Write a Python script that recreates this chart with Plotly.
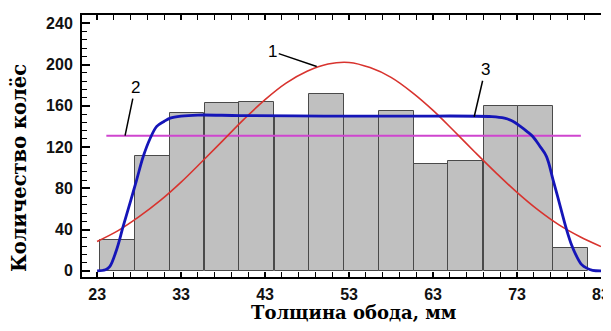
import plotly.graph_objects as go

# Histogram bins (centers, mm) and counts
bin_centers = [25.4, 29.6, 33.7, 37.9, 42.0, 46.2, 50.3, 54.5, 58.6, 62.8, 66.9, 71.1, 75.2, 79.4]
bin_counts = [30, 111, 153, 163, 164, 149, 171, 149, 155, 104, 106, 160, 160, 22]
bin_width = 4.15

# Curve 1 (red)
curve1_x = [23, 25.5, 28, 30.5, 33, 35.5, 38, 40.5, 43, 45.5, 48, 50.5, 53, 55.5, 58,
            60.5, 63, 65.5, 68, 70.5, 73, 75.5, 78, 80.5, 83]
curve1_y = [28.5, 39, 52.5, 68, 86, 106, 126.5, 147, 166, 182, 193.5, 200.5, 202, 197,
            187.5, 173, 155.5, 135.5, 115, 95, 76, 59, 44.5, 33, 23.5]

# Curve 2 (magenta, uniform level)
curve2_x = [24.1, 80.6]
curve2_y = [131, 131]

# Curve 3 (blue)
curve3_x = [23, 24, 24.5, 25.3, 26.1, 27, 27.7, 28.5, 29.3, 30.1, 31, 31.7, 33, 35, 40,
            50, 60, 70, 71.5, 72.5, 73.4, 74.2, 74.9, 75.7, 76.5, 77.3, 78.1, 78.9, 79.5,
            80.1, 80.7, 81.3, 82, 83]
curve3_y = [0, 1, 4, 20, 43, 68, 88, 111, 128, 140, 145, 148, 150, 151, 150.5,
            150, 150, 149.5, 148, 145, 140, 135, 130, 121, 111, 88, 64, 40, 25,
            14, 6, 2.6, 0.5, 0]

x_range = [21.2, 83]
y_range = [-6, 248]

fig = go.Figure()
fig.add_trace(go.Bar(x=bin_centers, y=bin_counts, width=bin_width,
                     marker=dict(color="#c0c0c0", line=dict(color="#4a4a4a", width=1)),
                     showlegend=False))
fig.add_trace(go.Scatter(x=curve2_x, y=curve2_y, mode="lines",
                         line=dict(color="#cf45cf", width=2), showlegend=False))
fig.add_trace(go.Scatter(x=curve1_x, y=curve1_y, mode="lines", line_shape="spline",
                         line=dict(color="#d8332e", width=1.6), showlegend=False))
fig.add_trace(go.Scatter(x=curve3_x, y=curve3_y, mode="lines", line_shape="spline",
                         line=dict(color="#1515b8", width=2.8), showlegend=False))
fig.add_trace(go.Scatter(x=[], y=[], yaxis="y2", showlegend=False))

tickfont = dict(family="Liberation Sans, Arial", size=16, color="#111", weight="bold")

# page body has an 8px default margin, so the figure is smaller than the window
fig.update_layout(
    width=603, height=315,
    margin=dict(l=74, r=0, t=7, b=46, autoexpand=False),
    plot_bgcolor="white", paper_bgcolor="white",
    bargap=0,
    xaxis=dict(domain=[0, 519 / 529], range=x_range, tick0=23, dtick=10, automargin=False,
               ticks="inside", ticklen=5, tickwidth=1.5, tickcolor="black",
               minor=dict(dtick=2, tick0=23, ticks="inside", ticklen=3, tickwidth=1, tickcolor="black"),
               showline=True, linecolor="black", linewidth=2, mirror="allticks",
               showgrid=False, zeroline=False, tickfont=tickfont, ticklabelstandoff=2,
               ticklabeloverflow="allow"),
    yaxis=dict(range=y_range, tick0=0, dtick=40, automargin=False,
               ticks="inside", ticklen=8, tickwidth=1.5, tickcolor="black",
               minor=dict(dtick=8, tick0=0, ticks="inside", ticklen=5, tickwidth=1, tickcolor="black"),
               showline=True, linecolor="black", linewidth=2,
               showgrid=False, zeroline=False, tickfont=tickfont, ticklabelstandoff=4),
    yaxis2=dict(range=y_range, overlaying="y", side="right", anchor="free", position=1,
                automargin=False,
                tick0=0, dtick=40, ticks="inside", ticklen=6, tickwidth=1.5, tickcolor="black",
                minor=dict(dtick=8, tick0=0, ticks="inside", ticklen=3, tickwidth=1, tickcolor="black"),
                showline=False, showgrid=False, zeroline=False, showticklabels=False),
    font=dict(family="Liberation Sans, Arial", color="black"),
)

titlefont = dict(family="DejaVu Serif", size=18, color="black", weight="bold")
fig.add_annotation(text="Толщина обода, мм", xref="paper", yref="paper",
                   x=(354 - 82) / 529, y=(277 - 312) / 262, xanchor="center", yanchor="middle",
                   showarrow=False, font=titlefont)
fig.add_annotation(text="Количество колёс", xref="paper", yref="paper",
                   x=(19 - 82) / 529, y=(277 - 168) / 262, xanchor="center", yanchor="middle",
                   textangle=-90, showarrow=False, font=dict(family="DejaVu Serif", size=19.5, color="black", weight="bold"))

lblfont = dict(family="Liberation Sans, Arial", size=17, color="black")
for txt, tx, ty, ax, ay in [("1", 49.15, 198, -44, -15), ("2", 26.33, 131, 10, -48), ("3", 67.9, 149.4, 11, -47)]:
    fig.add_annotation(text=txt, x=tx, y=ty, xref="x", yref="y", ax=ax, ay=ay,
                       showarrow=True, arrowhead=0, arrowwidth=1.5, arrowcolor="black",
                       standoff=0, font=lblfont)

fig.write_html("out.html")
